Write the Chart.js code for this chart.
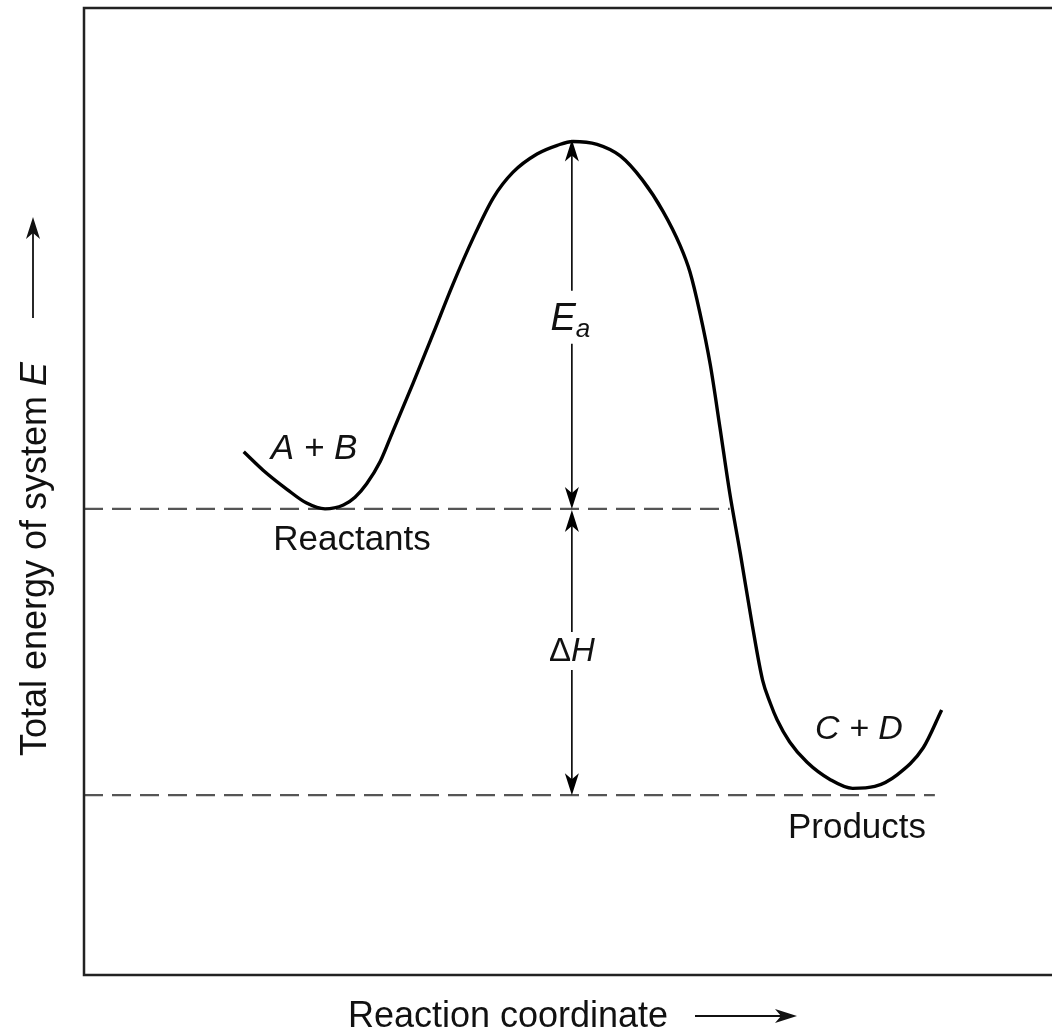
<!DOCTYPE html>
<html>
<head>
<meta charset="utf-8">
<script src="https://cdn.jsdelivr.net/npm/chart.js@4"></script>
<style>
  html, body { margin: 0; padding: 0; background: #fff; }
  #wrap { width: 1052px; height: 1032px; position: relative; }
</style>
</head>
<body>
<div id="wrap"><canvas id="energyChart"></canvas></div>
<script>
// energy profile (x: reaction coordinate, y: energy, both 0-100)
const energyX = [16.5, 18.5, 21.0, 23.0, 24.9, 26.8, 28.0, 29.2, 30.6, 31.9, 34.0, 36.1, 38.1, 40.2,
                 42.3, 44.3, 46.8, 48.9, 50.5, 53.0, 55.4, 57.7, 59.8, 61.6, 62.6, 63.6, 64.7, 65.7,
                 66.7, 67.8, 69.0, 70.1, 70.9, 71.6, 72.9, 74.7, 77.1, 79.4, 81.7, 84.0, 86.7, 88.6];
const energyY = [54.1, 52.2, 50.2, 48.8, 48.2, 48.6, 49.4, 50.8, 53.1, 56.2, 61.2, 66.4, 71.4, 76.2,
                 80.4, 83.0, 84.9, 85.8, 86.2, 85.9, 84.7, 82.2, 79.0, 75.4, 72.7, 68.6, 63.1, 56.6,
                 49.9, 43.6, 36.4, 30.5, 28.1, 26.4, 24.1, 22.0, 20.2, 19.3, 19.5, 20.7, 23.5, 27.4];

const reactantLevel = 48.2;
const productLevel = 18.6;
const reactantLineEnd = 66.7;
const productLineEnd = 87.9;
const arrowX = 50.4;
const peakEnergy = Math.max(...energyY);

const FONT = '"Liberation Sans", Arial, Helvetica, sans-serif';

function drawHead(ctx, x, y, dir) {
  // dir = -1 points up, 1 points down
  const len = 22, half = 7, notch = 6;
  ctx.beginPath();
  ctx.moveTo(x, y);
  ctx.lineTo(x - half, y - dir * len);
  ctx.lineTo(x, y - dir * (len - notch));
  ctx.lineTo(x + half, y - dir * len);
  ctx.closePath();
  ctx.fill();
}

function drawHeadRight(ctx, x, y) {
  const len = 22, half = 7, notch = 6;
  ctx.beginPath();
  ctx.moveTo(x, y);
  ctx.lineTo(x - len, y - half);
  ctx.lineTo(x - len + notch, y);
  ctx.lineTo(x - len, y + half);
  ctx.closePath();
  ctx.fill();
}

function vLine(ctx, x, y1, y2) {
  ctx.beginPath();
  ctx.moveTo(x, y1);
  ctx.lineTo(x, y2);
  ctx.stroke();
}

// draws a run of [text, italic, size, dy] pieces centred on (cx, cy)
function drawRuns(ctx, runs, cx, cy) {
  let total = 0;
  runs.forEach(r => {
    ctx.font = (r[1] ? 'italic ' : '') + r[2] + 'px ' + FONT;
    total += ctx.measureText(r[0]).width;
  });
  let x = cx - total / 2;
  ctx.textAlign = 'left';
  ctx.textBaseline = 'middle';
  runs.forEach(r => {
    ctx.font = (r[1] ? 'italic ' : '') + r[2] + 'px ' + FONT;
    ctx.fillText(r[0], x, cy + (r[3] || 0));
    x += ctx.measureText(r[0]).width;
  });
}

const annotations = {
  id: 'annotations',
  afterDraw(chart) {
    const ctx = chart.ctx;
    const xs = chart.scales.x, ys = chart.scales.y;
    const area = chart.chartArea;
    ctx.save();

    // frame (right side runs off the picture)
    ctx.strokeStyle = '#222';
    ctx.lineWidth = 2.5;
    ctx.beginPath();
    ctx.moveTo(area.right + 5, area.top);
    ctx.lineTo(area.left, area.top);
    ctx.lineTo(area.left, area.bottom);
    ctx.lineTo(area.right + 5, area.bottom);
    ctx.stroke();

    // Ea and dH arrows
    const ax = xs.getPixelForValue(arrowX);
    const yPeak = ys.getPixelForValue(peakEnergy) - 2;
    const yReact = ys.getPixelForValue(reactantLevel);
    const yProd = ys.getPixelForValue(productLevel);
    ctx.strokeStyle = '#000';
    ctx.fillStyle = '#000';
    ctx.lineWidth = 1.6;
    const eaMid = yPeak + (yReact - yPeak) * 0.48;
    vLine(ctx, ax, yPeak + 10, eaMid - 26);
    vLine(ctx, ax, eaMid + 27, yReact - 10);
    drawHead(ctx, ax, yPeak, -1);
    drawHead(ctx, ax, yReact, 1);
    const dhMid = yReact + (yProd - yReact) * 0.50;
    vLine(ctx, ax, yReact + 10, dhMid - 20);
    vLine(ctx, ax, dhMid + 18, yProd - 10);
    drawHead(ctx, ax, yReact + 1, -1);
    drawHead(ctx, ax, yProd, 1);

    ctx.fillStyle = '#111';
    // Ea label
    ctx.font = 'italic 38px ' + FONT;
    ctx.textAlign = 'right';
    ctx.textBaseline = 'alphabetic';
    ctx.fillText('E', ax + 4, eaMid + 13);
    ctx.font = 'italic 26px ' + FONT;
    ctx.textAlign = 'left';
    ctx.fillText('a', ax + 4, eaMid + 20);

    // dH label
    drawRuns(ctx, [['\u0394', false, 33], ['H', true, 33]], ax, dhMid);

    // species labels
    drawRuns(ctx, [['A + B', true, 35]], 314, 449);
    drawRuns(ctx, [['C + D', true, 34]], 859, 730);
    drawRuns(ctx, [['Reactants', false, 35]], 352, 540);
    drawRuns(ctx, [['Products', false, 35]], 857, 828);

    // x axis title + arrow
    ctx.font = '36px ' + FONT;
    ctx.textAlign = 'center';
    ctx.textBaseline = 'alphabetic';
    ctx.fillText('Reaction coordinate', 508, 1027);
    ctx.strokeStyle = '#111';
    ctx.fillStyle = '#111';
    ctx.lineWidth = 1.8;
    ctx.beginPath();
    ctx.moveTo(695, 1016);
    ctx.lineTo(785, 1016);
    ctx.stroke();
    drawHeadRight(ctx, 797, 1016);

    // y axis title + arrow
    ctx.save();
    ctx.translate(46, 559);
    ctx.rotate(-Math.PI / 2);
    ctx.font = '36px ' + FONT;
    const t1 = 'Total energy of system ';
    const w1 = ctx.measureText(t1).width;
    ctx.font = 'italic 36px ' + FONT;
    const w2 = ctx.measureText('E').width;
    let sx = -(w1 + w2) / 2;
    ctx.textAlign = 'left';
    ctx.font = '36px ' + FONT;
    ctx.fillText(t1, sx, 0);
    ctx.font = 'italic 36px ' + FONT;
    ctx.fillText('E', sx + w1, 0);
    ctx.restore();
    ctx.beginPath();
    ctx.moveTo(33, 318);
    ctx.lineTo(33, 230);
    ctx.stroke();
    drawHead(ctx, 33, 217, -1);

    ctx.restore();
  }
};

new Chart(document.getElementById('energyChart'), {
  type: 'line',
  data: {
    datasets: [
      {
        label: 'Energy',
        data: energyX.map((x, i) => ({ x: x, y: energyY[i] })),
        borderColor: '#000',
        borderWidth: 3.4,
        pointRadius: 0,
        cubicInterpolationMode: 'monotone',
        fill: false
      },
      {
        label: 'Reactants',
        data: [{ x: 0, y: reactantLevel }, { x: reactantLineEnd, y: reactantLevel }],
        borderColor: '#555',
        borderWidth: 2.2,
        borderDash: [19, 9],
        pointRadius: 0
      },
      {
        label: 'Products',
        data: [{ x: 0, y: productLevel }, { x: productLineEnd, y: productLevel }],
        borderColor: '#555',
        borderWidth: 2.2,
        borderDash: [19, 9],
        pointRadius: 0
      }
    ]
  },
  options: {
    responsive: true,
    maintainAspectRatio: false,
    animation: false,
    layout: { padding: { left: 84, top: 8, right: 0, bottom: 57 } },
    plugins: {
      legend: { display: false },
      tooltip: { enabled: false }
    },
    scales: {
      x: { type: 'linear', min: 0, max: 100, display: false },
      y: { type: 'linear', min: 0, max: 100, display: false }
    }
  },
  plugins: [annotations]
});
</script>
</body>
</html>
